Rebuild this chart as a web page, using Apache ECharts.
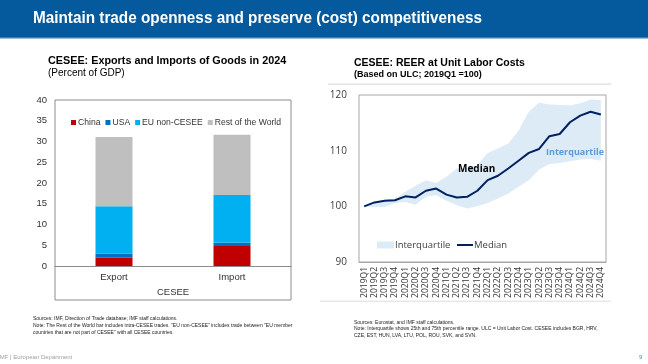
<!DOCTYPE html>
<html>
<head>
<meta charset="utf-8">
<script src="https://cdn.jsdelivr.net/npm/echarts@6/dist/echarts.min.js"></script>
<style>
html, body { margin: 0; padding: 0; background: #fff; }
#content { width: 648px; height: 364px; }
</style>
</head>
<body>
<div id="content"></div>
<script>
// left chart: goods trade, percent of GDP
var tradeCats = ['Export', 'Import'];
var china = [2.0, 4.8];
var usa = [1.0, 0.8];
var euNonCesee = [11.4, 11.5];
var restOfWorld = [16.7, 14.5];

// right chart: REER at ULC, 2019Q1 = 100
var quarters = ['2019Q1', '2019Q2', '2019Q3', '2019Q4', '2020Q1', '2020Q2', '2020Q3', '2020Q4',
    '2021Q1', '2021Q2', '2021Q3', '2021Q4', '2022Q1', '2022Q2', '2022Q3', '2022Q4',
    '2023Q1', '2023Q2', '2023Q3', '2023Q4', '2024Q1', '2024Q2', '2024Q3', '2024Q4'];
var median = [100.0, 100.7, 101.0, 101.1, 101.8, 101.6, 102.8, 103.2,
    102.1, 101.6, 101.7, 102.8, 104.7, 105.5, 106.8, 108.2,
    109.6, 110.3, 112.6, 113.0, 115.1, 116.3, 117.0, 116.5];
var q25 = [100.0, 99.9, 99.9, 100.6, 100.8, 100.3, 101.7, 102.0,
    101.0, 100.2, 99.6, 100.0, 100.6, 101.4, 102.3, 103.5,
    104.7, 106.6, 107.6, 107.8, 108.1, 108.4, 108.5, 108.2];
var q75 = [100.0, 100.8, 101.2, 101.4, 102.6, 103.7, 104.7, 104.2,
    105.3, 106.8, 106.9, 107.4, 109.6, 110.4, 111.3, 113.6,
    117.0, 118.6, 118.3, 118.2, 118.1, 118.5, 119.2, 119.1];

var band = q75.map(function (v, i) { return +(v - q25[i]).toFixed(2); });

var arial = '"Liberation Sans", Arial, sans-serif';
var sans = '"Open Sans", "Noto Sans", sans-serif';

var option = {
    backgroundColor: '#FFFFFF',
    animation: false,
    textStyle: { fontFamily: arial },
    legend: [{
        data: ['China', 'USA', 'EU non-CESEE', 'Rest of the World'],
        left: 66,
        top: 113,
        icon: 'rect',
        itemWidth: 5,
        itemHeight: 5,
        itemGap: 5,
        textStyle: { fontSize: 8.6, color: '#333', fontFamily: arial, padding: [0, 0, 0, -3] }
    }, {
        data: [{ name: 'Interquartile', icon: 'rect' }],
        left: 372,
        top: 235,
        itemWidth: 17,
        itemHeight: 7,
        textStyle: { fontSize: 9.5, color: '#404040', fontFamily: sans, padding: [0, 0, 0, -4] }
    }, {
        data: [{ name: 'Median', icon: 'rect' }],
        left: 452,
        top: 235,
        itemWidth: 16,
        itemHeight: 2,
        textStyle: { fontSize: 9.5, color: '#404040', fontFamily: sans, padding: [0, 0, 0, -4] }
    }],
    grid: [
        { left: 55, right: 357, top: 100, bottom: 98 },
        { left: 359, right: 42, top: 95, bottom: 102 }
    ],
    xAxis: [{
        gridIndex: 0,
        type: 'category',
        data: tradeCats,
        axisLine: { lineStyle: { color: '#8C8C8C' } },
        axisTick: { show: false },
        axisLabel: { fontSize: 9.5, color: '#333', margin: 6 }
    }, {
        gridIndex: 1,
        type: 'category',
        data: quarters,
        boundaryGap: true,
        axisLine: { lineStyle: { color: '#A6A6A6' } },
        axisTick: { show: false },
        axisLabel: { rotate: 90, interval: 0, fontSize: 8.5, color: '#333', fontFamily: sans, margin: 5 }
    }],
    yAxis: [{
        gridIndex: 0,
        type: 'value',
        min: 0,
        max: 40,
        interval: 5,
        splitLine: { show: false },
        axisLine: { show: false },
        axisTick: { show: false },
        axisLabel: { fontSize: 9.5, color: '#333', margin: 8 }
    }, {
        gridIndex: 1,
        type: 'value',
        min: 90,
        max: 120,
        interval: 10,
        splitLine: { show: false },
        axisLine: { show: false },
        axisTick: { show: false },
        axisLabel: { fontSize: 10, color: '#404040', fontFamily: sans, margin: 12 }
    }],
    series: [
        { name: 'China', type: 'bar', stack: 'trade', data: china, barWidth: 37, itemStyle: { color: '#C00000' } },
        { name: 'USA', type: 'bar', stack: 'trade', data: usa, itemStyle: { color: '#0070C0' } },
        { name: 'EU non-CESEE', type: 'bar', stack: 'trade', data: euNonCesee, itemStyle: { color: '#00B0F0' } },
        { name: 'Rest of the World', type: 'bar', stack: 'trade', data: restOfWorld, itemStyle: { color: '#BFBFBF' } },
        {
            name: 'q25', type: 'line', xAxisIndex: 1, yAxisIndex: 1, stack: 'band', data: q25,
            symbol: 'none', silent: true, lineStyle: { opacity: 0 }, areaStyle: { opacity: 0 }
        },
        {
            name: 'Interquartile', type: 'line', xAxisIndex: 1, yAxisIndex: 1, stack: 'band', data: band,
            symbol: 'none', color: '#DDEBF7', lineStyle: { opacity: 0 },
            areaStyle: { color: '#DDEBF7', opacity: 1 }
        },
        {
            name: 'Median', type: 'line', xAxisIndex: 1, yAxisIndex: 1, data: median,
            symbol: 'none', color: '#002060', lineStyle: { color: '#002060', width: 2 }, z: 5
        }
    ],
    graphic: [
        // title bar
        { type: 'rect', shape: { x: 0, y: 0, width: 648, height: 38 }, style: { fill: '#045A9C' }, z: -1 },
        { type: 'rect', shape: { x: 0, y: 37, width: 648, height: 1.5 }, style: { fill: '#3C7DB5' } },
        { type: 'text', x: 33, y: 10, scaleX: 0.9, style: { text: 'Maintain trade openness and preserve (cost) competitiveness',
            fill: '#FFFFFF', font: 'bold 17px ' + arial } },

        // left chart titles
        { type: 'text', left: 48, top: 56, style: { text: 'CESEE: Exports and Imports of Goods in 2024',
            fill: '#000', font: 'bold 10.8px ' + arial } },
        { type: 'text', left: 48, top: 68, style: { text: '(Percent of GDP)', fill: '#000', font: '10px ' + arial } },
        { type: 'rect', shape: { x: 55, y: 100, width: 236, height: 200 }, style: { fill: 'none', stroke: '#8C8C8C', lineWidth: 1 } },
        { type: 'text', left: 157, top: 287, style: { text: 'CESEE', fill: '#333', font: '9.5px ' + arial } },

        // right chart titles
        { type: 'text', left: 354, top: 58, style: { text: 'CESEE: REER at Unit Labor Costs',
            fill: '#000', font: 'bold 10.5px ' + arial } },
        { type: 'text', left: 354, top: 70, style: { text: '(Based on ULC; 2019Q1 =100)',
            fill: '#000', font: 'bold 9px ' + arial } },
        { type: 'rect', shape: { x: 328, y: 83.5, width: 283, height: 1.5 }, style: { fill: '#E3E3E3' } },
        { type: 'rect', shape: { x: 359, y: 95, width: 247, height: 167 }, style: { fill: 'none', stroke: '#A6A6A6', lineWidth: 1 }, z: 10 },
        { type: 'rect', shape: { x: 320, y: 300.5, width: 291, height: 1.5 }, style: { fill: '#E8E8E8' } },
        { type: 'text', left: 458, top: 164, style: { text: 'Median', fill: '#000', font: 'bold 10px ' + sans }, z: 20 },
        { type: 'text', left: 546, top: 148, style: { text: 'Interquartile', fill: '#5B9BD5', font: 'bold 9px ' + sans }, z: 20 },

        // footnotes
        { type: 'text', left: 33, top: 315, style: { fill: '#222', font: '5px ' + arial, lineHeight: 7,
            text: 'Sources: IMF, Direction of Trade database; IMF staff calculations.\n' +
                'Note: The Rest of the World bar includes intra-CESEE trades. "EU non-CESEE" includes trade between "EU member\n' +
                'countries that are not part of CESEE" with all CESEE countries.' } },
        { type: 'text', left: 354, top: 319, style: { fill: '#222', font: '5px ' + arial, lineHeight: 6.5,
            text: 'Sources: Eurostat, and IMF staff calculations.\n' +
                'Note: Interquartile shows 25th and 75th percentile range. ULC = Unit Labor Cost. CESEE includes BGR, HRV,\n' +
                'CZE, EST, HUN, LVA, LTU, POL, ROU, SVK, and SVN.' } },
        { type: 'text', left: -2, top: 354, style: { text: 'IMF | European Department', fill: '#A0A0A0', font: '6px ' + arial } },
        { type: 'text', left: 639, top: 354, style: { text: '9', fill: '#4A90C8', font: '6px ' + arial } }
    ]
};

var myChart = echarts.init(document.getElementById('content'));
myChart.setOption(option);
</script>
</body>
</html>
